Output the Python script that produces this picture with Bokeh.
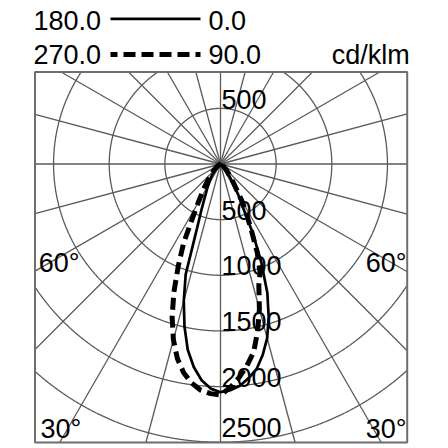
"""
polar_intensity.py — luminous intensity distribution (cd/klm) drawn with Bokeh.
"""

import numpy as np
from bokeh.core.properties import value
from bokeh.embed import file_html
from bokeh.models import Range1d
from bokeh.plotting import figure
from bokeh.resources import INLINE

# ---------------------------------------------------------------------------
# Data
# ---------------------------------------------------------------------------
GAMMA = [0, 2.5, 5, 7.5, 10, 12.5, 15, 17.5, 20, 22.5, 25, 27.5, 30,
         35, 40, 45, 50, 60, 70, 80, 90]

C0   = [2050, 2035, 2000, 1940, 1870, 1755, 1620, 1440, 1230, 960, 690, 430, 320,
        160, 85, 50, 30, 12, 5, 2, 0]
C180 = [2050, 2020, 1950, 1840, 1695, 1495, 1275, 1040, 620, 450, 340, 270, 220,
        150, 95, 60, 35, 15, 6, 2, 0]
C90  = [2075, 2010, 1925, 1825, 1715, 1540, 1350, 1145, 1040, 865, 655, 505, 390,
        195, 115, 70, 42, 16, 6, 2, 0]
C270 = [2075, 2065, 2040, 1985, 1905, 1790, 1635, 1445, 1225, 990, 785, 540, 400,
        245, 150, 95, 60, 22, 8, 3, 0]

RINGS       = [500, 1000, 1500, 2000, 2500]
RING_LABELS = ["500", "1000", "1500", "2000", "2500"]
SPOKE_STEP  = 15
UNIT        = "cd/klm"
LEGEND_ROWS = [("180.0", "0.0", "solid"), ("270.0", "90.0", "dashed")]

# ---------------------------------------------------------------------------
# Look / geometry (page pixels)
# ---------------------------------------------------------------------------
FONT      = value("Liberation Sans")
FONT_SIZE = "27px"
TEXT_DY   = -8.5                       # baseline correction for Bokeh's text box
GRID_CLR  = "#5a5a5a"
BOX_CLR   = "#6e6e6e"
INK       = "#000000"
DASH      = "12 6"

W, H   = 448, 448
CX, CY = 220.0, 163.5                  # pole of the diagram
S      = 0.1113                        # px per cd/klm
BOX    = (34.5, 71.5, 406.7, 442.0)    # left, top, right, bottom


def dx(px):
    return (px - CX) / S


def dy(py):
    return (CY - py) / S


BX0, BY1, BX1, BY0 = dx(BOX[0]), dy(BOX[1]), dx(BOX[2]), dy(BOX[3])


def _profile(left, right):
    g  = np.radians(GAMMA)
    il = np.asarray(left, dtype=float)
    ir = np.asarray(right, dtype=float)
    xs = np.concatenate([-(il * np.sin(g))[::-1], (ir * np.sin(g))[1:]])
    ys = np.concatenate([-(il * np.cos(g))[::-1], -(ir * np.cos(g))[1:]])
    return xs, ys


def _inside(x, y):
    return (x >= BX0) & (x <= BX1) & (y >= BY0) & (y <= BY1)


def _text(fig, x, y, txt, align="left"):
    fig.text(x=x, y=y, text=txt, text_font=FONT, text_font_size=FONT_SIZE,
             text_color=INK, text_align=align, text_baseline="alphabetic",
             y_offset=TEXT_DY)


p = figure(width=W, height=H,
           x_range=Range1d(dx(0), dx(W)), y_range=Range1d(dy(H), dy(0)),
           toolbar_location=None, output_backend="svg", min_border=0,
           x_axis_type=None, y_axis_type=None, outline_line_color=None)

# ---------------------------------------------------------------------------
# Polar grid, clipped to the box
# ---------------------------------------------------------------------------
t = np.linspace(0, 2 * np.pi, 2881)
for r in RINGS:
    x, y = r * np.cos(t), r * np.sin(t)
    keep = _inside(x, y)
    p.line(np.where(keep, x, np.nan), np.where(keep, y, np.nan),
           line_color=GRID_CLR, line_width=1.3)

ang = np.radians(np.arange(0, 360, SPOKE_STEP))
ends_x, ends_y = [], []
for a in ang:
    c, s = np.cos(a), np.sin(a)
    lims = []
    if c > 1e-9:
        lims.append(BX1 / c)
    if c < -1e-9:
        lims.append(BX0 / c)
    if s > 1e-9:
        lims.append(BY1 / s)
    if s < -1e-9:
        lims.append(BY0 / s)
    L = min(lims)
    ends_x.append(L * c)
    ends_y.append(L * s)
p.segment(x0=0, y0=0, x1=ends_x, y1=ends_y, line_color=GRID_CLR, line_width=1.3)

p.quad(left=[BX0], right=[BX1], bottom=[BY0], top=[BY1],
       fill_color=None, line_color=BOX_CLR, line_width=2)

# ---------------------------------------------------------------------------
# Intensity curves
# ---------------------------------------------------------------------------
xs, ys = _profile(C180, C0)
p.line(xs, ys, line_color=INK, line_width=2.7)
xs, ys = _profile(C270, C90)
p.line(xs, ys, line_color=INK, line_width=5, line_dash=DASH)

# ---------------------------------------------------------------------------
# Labels
# ---------------------------------------------------------------------------
lab_x = 1.0 / S
_text(p, [lab_x], [RINGS[0] + 0.5 / S], [RING_LABELS[0]])
_text(p, [lab_x] * len(RINGS),
      [max(-r + 1 / S, BY0 + 7 / S) for r in RINGS], RING_LABELS)

y60 = BX0 / np.tan(np.radians(60))
_text(p, [BX0 + 3.8 / S], [y60], ["60°"])
_text(p, [BX1 - 0.7 / S], [y60], ["60°"], align="right")
_text(p, [BX0 + 5.5 / S], [BY0 + 5.5 / S], ["30°"])
_text(p, [BX1 - 0.7 / S], [BY0 + 5.5 / S], ["30°"], align="right")

# ---------------------------------------------------------------------------
# Legend above the box
# ---------------------------------------------------------------------------
for i, (lab_l, lab_r, style) in enumerate(LEGEND_ROWS):
    base = 28.3 + i * 34.4
    _text(p, [dx(33)], [dy(base)], [lab_l])
    _text(p, [dx(208)], [dy(base)], [lab_r])
    if style == "solid":
        ly = dy(base - 10)
        p.segment(x0=[dx(110)], y0=[ly], x1=[dx(200)], y1=[ly],
                  line_color=INK, line_width=2.7)
    else:
        ly = dy(base - 8.7)
        p.segment(x0=[dx(110)], y0=[ly], x1=[dx(200)], y1=[ly],
                  line_color=INK, line_width=5, line_dash=DASH, line_dash_offset=5)
_text(p, [dx(409.3)], [dy(62.7)], [UNIT], align="right")

open("out.html", "w").write(file_html(p, INLINE))
